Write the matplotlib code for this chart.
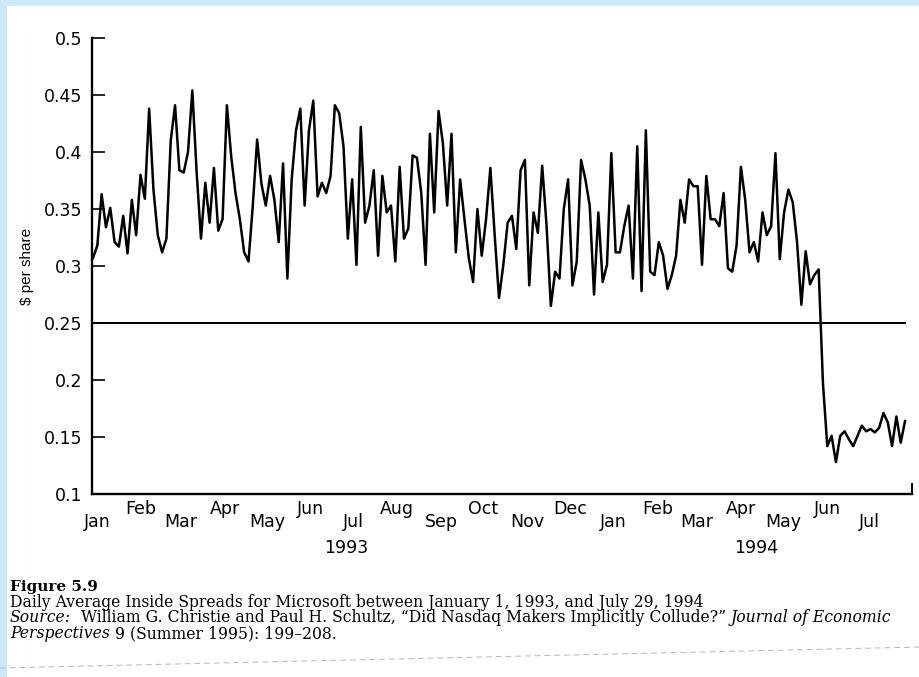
import matplotlib
matplotlib.use('Agg')
import matplotlib.pyplot as plt
import matplotlib.dates as mdates
from matplotlib.patches import Rectangle
from matplotlib.lines import Line2D
import numpy as np
import pandas as pd

# ---------------- data ----------------
spread_jan_apr_1993 = [0.307, 0.318, 0.363, 0.334, 0.351, 0.321, 0.317, 0.344, 0.311, 0.358,
                       0.327, 0.380, 0.359, 0.438, 0.367, 0.327, 0.312, 0.324, 0.410, 0.441,
                       0.384, 0.382, 0.400, 0.454, 0.382, 0.324, 0.373, 0.338, 0.386, 0.331,
                       0.341, 0.441, 0.396]
spread_apr_jul_1993 = [0.364, 0.341, 0.312, 0.304, 0.353, 0.411, 0.372, 0.353, 0.379, 0.358,
                       0.321, 0.390, 0.289, 0.376, 0.419, 0.438, 0.353, 0.419, 0.445, 0.361,
                       0.373, 0.364, 0.379, 0.441, 0.434, 0.405, 0.324, 0.376, 0.301, 0.422,
                       0.338, 0.353]
spread_jul_oct_1993 = [0.384, 0.309, 0.379, 0.347, 0.353, 0.304, 0.387, 0.324, 0.333, 0.397,
                       0.395, 0.364, 0.301, 0.416, 0.347, 0.436, 0.408, 0.353, 0.416, 0.312,
                       0.376, 0.341, 0.307, 0.286, 0.350, 0.309, 0.341, 0.386, 0.327, 0.272,
                       0.301, 0.338]
spread_oct_1993_feb_1994 = [0.344, 0.315, 0.384, 0.393, 0.283, 0.347, 0.329, 0.388, 0.336, 0.265,
                            0.295, 0.289, 0.350, 0.376, 0.283, 0.304, 0.393, 0.376, 0.353, 0.275,
                            0.347, 0.286, 0.301, 0.399, 0.312, 0.312, 0.335, 0.353, 0.289, 0.405,
                            0.278, 0.419, 0.295]
spread_feb_may_1994 = [0.292, 0.321, 0.309, 0.280, 0.292, 0.309, 0.358, 0.338, 0.376, 0.370,
                       0.370, 0.301, 0.379, 0.341, 0.341, 0.335, 0.364, 0.298, 0.295, 0.318,
                       0.387, 0.358, 0.312, 0.321, 0.304, 0.347, 0.327, 0.335, 0.399, 0.306,
                       0.347, 0.367]
spread_may_jul_1994 = [0.356, 0.321, 0.266, 0.313, 0.284, 0.292, 0.297, 0.197, 0.142, 0.151,
                       0.128, 0.151, 0.155, 0.148, 0.142, 0.151, 0.160, 0.155, 0.157, 0.154,
                       0.158, 0.171, 0.163, 0.142, 0.168, 0.145, 0.164]

start_date = '1993-01-01'
end_date = '1994-07-29'
y_ticks = [0.1, 0.15, 0.2, 0.25, 0.3, 0.35, 0.4, 0.45, 0.5]
y_tick_labels = ['0.1', '0.15', '0.2', '0.25', '0.3', '0.35', '0.4', '0.45', '0.5']
reference_level = 0.25
year_labels = ['1993', '1994']
year_label_dates = ['1993-06-29', '1994-04-15']
y_label = '$ per share'

caption_title = 'Figure 5.9'
caption_line1 = 'Daily Average Inside Spreads for Microsoft between January 1, 1993, and July 29, 1994'
caption_line2 = [('Source:', 'italic'),
                 ('  William G. Christie and Paul H. Schultz, \u201cDid Nasdaq Makers Implicitly Collude?\u201d ', 'normal'),
                 ('Journal of Economic', 'italic')]
caption_line3 = [('Perspectives', 'italic'), (' 9 (Summer 1995): 199\u2013208.', 'normal')]

values = np.concatenate([spread_jan_apr_1993, spread_apr_jul_1993, spread_jul_oct_1993,
                         spread_oct_1993_feb_1994, spread_feb_may_1994, spread_may_jul_1994])
dates = pd.date_range(start_date, end_date, periods=len(values))

# ---------------- figure ----------------
W, H = 920, 677
fig = plt.figure(figsize=(W / 100, H / 100), dpi=100)
fig.patch.set_facecolor('white')
border = '#cce9fb'
fig.patches.append(Rectangle((0, 0), 7 / W, 1, transform=fig.transFigure,
                             facecolor=border, edgecolor='none', zorder=-5))
fig.patches.append(Rectangle((0, 1 - 6 / H), 1, 6 / H, transform=fig.transFigure,
                             facecolor=border, edgecolor='none', zorder=-5))

ax = fig.add_axes([92 / W, (H - 494) / H, 820 / W, 456 / H])
ax.set_facecolor('none')

ax.plot(dates, values, color='black', lw=1.8, solid_joinstyle='round')
ax.axhline(reference_level, xmin=0, xmax=0.991, color='black', lw=1.4)

ax.set_ylim(0.1, 0.5)
x0 = mdates.date2num(pd.Timestamp(start_date)) - 0.7
x1 = x0 + 820 / 1.4147
ax.set_xlim(x0, x1)

for side in ('top', 'right'):
    ax.spines[side].set_visible(False)
for side in ('left', 'bottom'):
    ax.spines[side].set_linewidth(1.7)

ax.set_yticks(y_ticks)
ax.set_yticklabels(y_tick_labels)
ax.tick_params(axis='y', direction='in', length=9.5, width=1.2, pad=7,
               labelsize=12.5)

ax.xaxis.set_major_locator(mdates.MonthLocator(bymonth=[1, 3, 5, 7, 9, 11], bymonthday=4))
ax.xaxis.set_minor_locator(mdates.MonthLocator(bymonth=[2, 4, 6, 8, 10, 12], bymonthday=4))
ax.xaxis.set_major_formatter(mdates.DateFormatter('%b'))
ax.xaxis.set_minor_formatter(mdates.DateFormatter('%b'))
ax.tick_params(axis='x', which='major', length=0, pad=13.5, labelsize=12.5)
ax.tick_params(axis='x', which='minor', length=0, pad=4, labelsize=12.5)

# small tick closing the right end of the x axis
ax.plot([1, 1], [0, 0.022], transform=ax.transAxes, color='black', lw=1.4,
        clip_on=False)

for lab, d in zip(year_labels, year_label_dates):
    ax.text(mdates.date2num(pd.Timestamp(d)), -0.1184, lab, transform=ax.get_xaxis_transform(),
            ha='center', va='center', fontsize=12.5)

ax.set_ylabel(y_label, family='Liberation Sans', fontsize=11)
ax.yaxis.set_label_coords(-0.071, 0.5)

# ---------------- caption ----------------
renderer = fig.canvas.get_renderer()
serif = 'DejaVu Serif'
csize = 11.25


def advance(s, **kw):
    t1 = fig.text(0, 0, s + '|', **kw)
    t2 = fig.text(0, 0, '|', **kw)
    w = t1.get_window_extent(renderer).width - t2.get_window_extent(renderer).width
    t1.remove()
    t2.remove()
    return w


def draw_pieces(pieces, x_px, base_px):
    x = x_px
    for text, style in pieces:
        kw = dict(family=serif, fontsize=csize, style=style)
        fig.text(x / W, 1 - base_px / H, text, va='baseline', ha='left', **kw)
        x += advance(text, **kw)


fig.text(10 / W, 1 - 591 / H, caption_title, family=serif, fontsize=11,
         weight='bold', va='baseline', ha='left')
draw_pieces([(caption_line1, 'normal')], 10, 607)
draw_pieces(caption_line2, 10, 622.5)
draw_pieces(caption_line3, 10, 638)

fig.add_artist(Line2D([0, 1], [1 - 668 / H, 1 - 647 / H], transform=fig.transFigure,
                      color='#b5b5b5', lw=0.7, ls=(0, (6, 4))))

fig.savefig('out.png', dpi=100)
